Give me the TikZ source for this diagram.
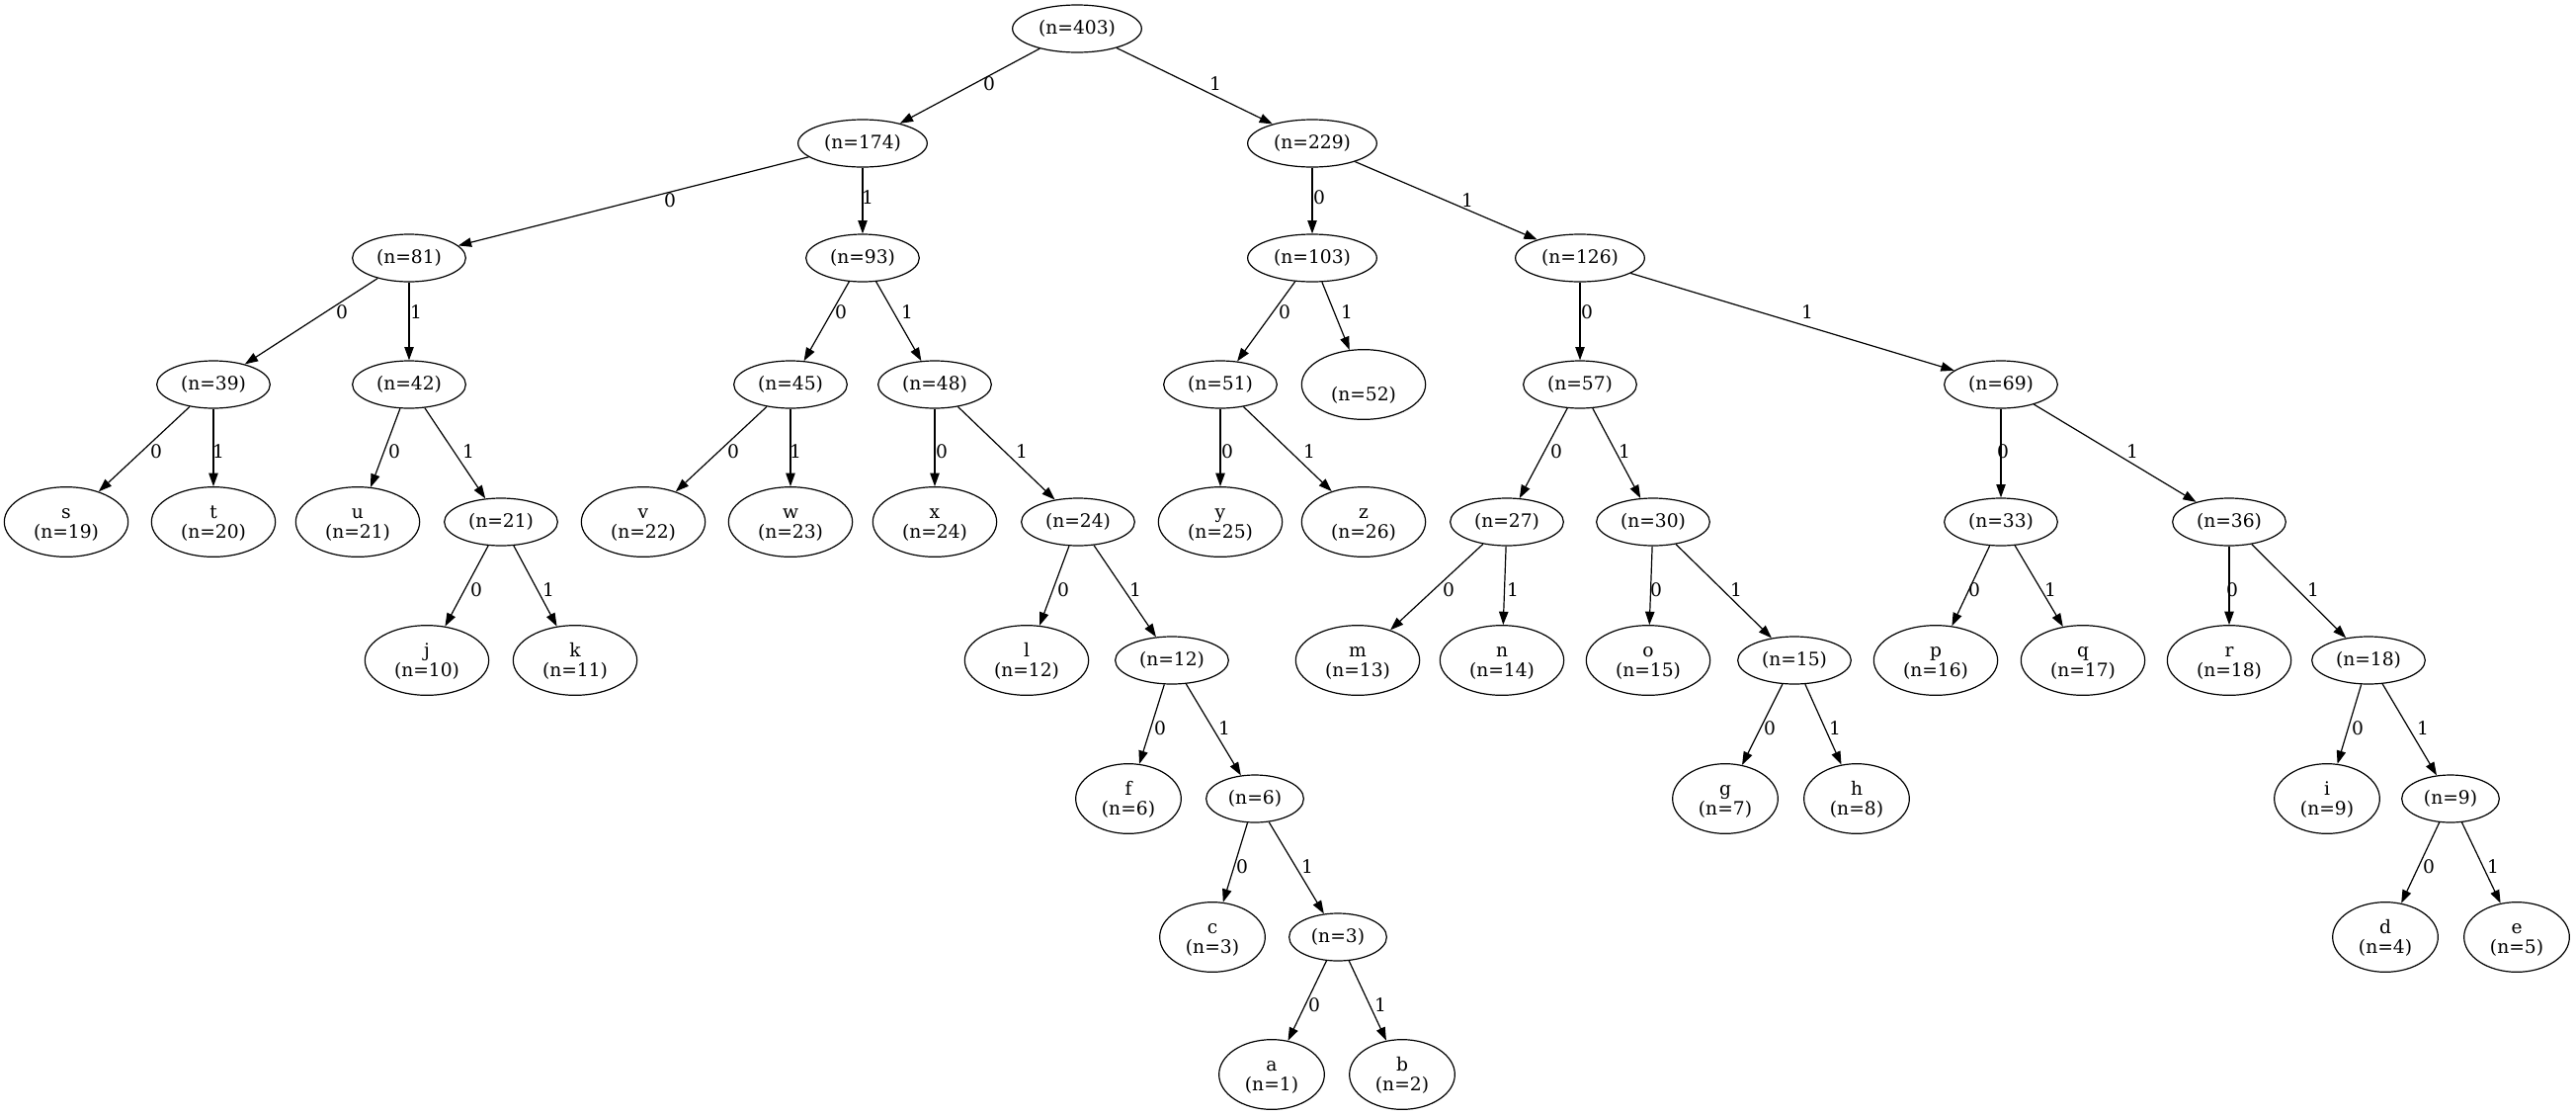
\documentclass[tikz,border=0pt]{standalone}
\usepackage{fontspec}
\setmainfont{DejaVu Serif}
\usetikzlibrary{shapes.geometric,arrows.meta}
\newcommand\leaftext[2]{\rule{0pt}{12pt}#1\\#2\rule[-3pt]{0pt}{0pt}}
\begin{document}
\begin{tikzpicture}[x=0.75pt,y=-0.75pt,
  every node/.style={font=\fontsize{14}{15}\selectfont},
  inode/.style={ellipse,draw,line width=0.9pt,inner sep=0pt,minimum height=36pt},
  w5/.style={minimum width=74pt}, w6/.style={minimum width=86pt}, w7/.style={minimum width=98pt},
  leaf/.style={ellipse,draw,line width=0.9pt,inner sep=0pt,minimum height=53pt,align=center},
  lw5/.style={leaf,minimum width=80pt}, lw6/.style={leaf,minimum width=94pt},
  conn/.style={line width=0.9pt,-{Triangle[length=10pt,width=7pt]}},
  elabel/.style={inner sep=0pt}]
\useasboundingbox (0,0) rectangle (2607,1129);
% internal nodes
\node[inode,w7] (n403) at (1090,29) {(n=403)};
\node[inode,w7] (n174) at (873,145) {(n=174)};
\node[inode,w7] (n229) at (1328,145) {(n=229)};
\node[inode,w6] (n81) at (414,261) {(n=81)};
\node[inode,w6] (n93) at (873,261) {(n=93)};
\node[inode,w7] (n103) at (1328,261) {(n=103)};
\node[inode,w7] (n126) at (1599,261) {(n=126)};
\node[inode,w6] (n39) at (216,389) {(n=39)};
\node[inode,w6] (n42) at (414,389) {(n=42)};
\node[inode,w6] (n45) at (800,389) {(n=45)};
\node[inode,w6] (n48) at (946,389) {(n=48)};
\node[inode,w6] (n51) at (1235,389) {(n=51)};
\node[inode,w6] (n57) at (1599,389) {(n=57)};
\node[inode,w6] (n69) at (2025,389) {(n=69)};
\node[inode,w6] (n21) at (507,528) {(n=21)};
\node[inode,w6] (n24) at (1091,528) {(n=24)};
\node[inode,w6] (n27) at (1525,528) {(n=27)};
\node[inode,w6] (n30) at (1673,528) {(n=30)};
\node[inode,w6] (n33) at (2025,528) {(n=33)};
\node[inode,w6] (n36) at (2256,528) {(n=36)};
\node[inode,w6] (n12) at (1186,668) {(n=12)};
\node[inode,w6] (n15) at (1816,668) {(n=15)};
\node[inode,w6] (n18) at (2397,668) {(n=18)};
\node[inode,w5] (n6) at (1270,808) {(n=6)};
\node[inode,w5] (n9) at (2480,808) {(n=9)};
\node[inode,w5] (n3) at (1354,948) {(n=3)};
% leaves
\node[lw6] (n52) at (1380,389) {\leaftext{}{(n=52)}};
\node[lw6] (Ls) at (67,528) {\leaftext{s}{(n=19)}};
\node[lw6] (Lt) at (216,528) {\leaftext{t}{(n=20)}};
\node[lw6] (Lu) at (362,528) {\leaftext{u}{(n=21)}};
\node[lw6] (Lv) at (651,528) {\leaftext{v}{(n=22)}};
\node[lw6] (Lw) at (800,528) {\leaftext{w}{(n=23)}};
\node[lw6] (Lx) at (946,528) {\leaftext{x}{(n=24)}};
\node[lw6] (Ly) at (1235,528) {\leaftext{y}{(n=25)}};
\node[lw6] (Lz) at (1380,528) {\leaftext{z}{(n=26)}};
\node[lw6] (Lj) at (432,668) {\leaftext{j}{(n=10)}};
\node[lw6] (Lk) at (582,668) {\leaftext{k}{(n=11)}};
\node[lw6] (Ll) at (1039,668) {\leaftext{l}{(n=12)}};
\node[lw6] (Lm) at (1374,668) {\leaftext{m}{(n=13)}};
\node[lw6] (Ln) at (1520,668) {\leaftext{n}{(n=14)}};
\node[lw6] (Lo) at (1668,668) {\leaftext{o}{(n=15)}};
\node[lw6] (Lp) at (1959,668) {\leaftext{p}{(n=16)}};
\node[lw6] (Lq) at (2108,668) {\leaftext{q}{(n=17)}};
\node[lw6] (Lr) at (2256,668) {\leaftext{r}{(n=18)}};
\node[lw5] (Lf) at (1142,808) {\leaftext{f}{(n=6)}};
\node[lw5] (Lg) at (1746,808) {\leaftext{g}{(n=7)}};
\node[lw5] (Lh) at (1879,808) {\leaftext{h}{(n=8)}};
\node[lw5] (Li) at (2355,808) {\leaftext{i}{(n=9)}};
\node[lw5] (Lc) at (1227,948) {\leaftext{c}{(n=3)}};
\node[lw5] (Ld) at (2414,948) {\leaftext{d}{(n=4)}};
\node[lw5] (Le) at (2547,948) {\leaftext{e}{(n=5)}};
\node[lw5] (La) at (1287,1087) {\leaftext{a}{(n=1)}};
\node[lw5] (Lb) at (1419,1087) {\leaftext{b}{(n=2)}};
% edges
\draw[conn] (n403) -- (n174); \node[elabel] (e1) at (1001,85) {0};
\draw[conn] (n403) -- (n229); \node[elabel] (e2) at (1230,85) {1};
\draw[conn] (n174) -- (n81); \node[elabel] (e3) at (678,203) {0};
\draw[conn] (n174) -- (n93); \node[elabel] (e4) at (878,200) {1};
\draw[conn] (n229) -- (n103); \node[elabel] (e5) at (1335,200) {0};
\draw[conn] (n229) -- (n126); \node[elabel] (e6) at (1485,203) {1};
\draw[conn] (n81) -- (n39); \node[elabel] (e7) at (346,316) {0};
\draw[conn] (n81) -- (n42); \node[elabel] (e8) at (421,316) {1};
\draw[conn] (n93) -- (n45); \node[elabel] (e9) at (851,316) {0};
\draw[conn] (n93) -- (n48); \node[elabel] (e10) at (918,316) {1};
\draw[conn] (n103) -- (n51); \node[elabel] (e11) at (1300,316) {0};
\draw[conn] (n103) -- (n52); \node[elabel] (e12) at (1363,316) {1};
\draw[conn] (n126) -- (n57); \node[elabel] (e13) at (1606,316) {0};
\draw[conn] (n126) -- (n69); \node[elabel] (e14) at (1829,316) {1};
\draw[conn] (n39) -- (Ls); \node[elabel] (e15) at (158,457) {0};
\draw[conn] (n39) -- (Lt); \node[elabel] (e16) at (221,457) {1};
\draw[conn] (n42) -- (Lu); \node[elabel] (e17) at (399,457) {0};
\draw[conn] (n42) -- (n21); \node[elabel] (e18) at (474,457) {1};
\draw[conn] (n45) -- (Lv); \node[elabel] (e19) at (742,457) {0};
\draw[conn] (n45) -- (Lw); \node[elabel] (e20) at (805,457) {1};
\draw[conn] (n48) -- (Lx); \node[elabel] (e21) at (953,457) {0};
\draw[conn] (n48) -- (n24); \node[elabel] (e22) at (1034,457) {1};
\draw[conn] (n51) -- (Ly); \node[elabel] (e23) at (1242,457) {0};
\draw[conn] (n51) -- (Lz); \node[elabel] (e24) at (1325,457) {1};
\draw[conn] (n57) -- (n27); \node[elabel] (e25) at (1575,457) {0};
\draw[conn] (n57) -- (n30); \node[elabel] (e26) at (1644,457) {1};
\draw[conn] (n69) -- (n33); \node[elabel] (e27) at (2027,457) {0};
\draw[conn] (n69) -- (n36); \node[elabel] (e28) at (2158,457) {1};
\draw[conn] (n21) -- (Lj); \node[elabel] (e29) at (482,597) {0};
\draw[conn] (n21) -- (Lk); \node[elabel] (e30) at (555,597) {1};
\draw[conn] (n24) -- (Ll); \node[elabel] (e31) at (1076,597) {0};
\draw[conn] (n24) -- (n12); \node[elabel] (e32) at (1149,597) {1};
\draw[conn] (n27) -- (Lm); \node[elabel] (e33) at (1466,597) {0};
\draw[conn] (n27) -- (Ln); \node[elabel] (e34) at (1531,597) {1};
\draw[conn] (n30) -- (Lo); \node[elabel] (e35) at (1676,597) {0};
\draw[conn] (n30) -- (n15); \node[elabel] (e36) at (1757,597) {1};
\draw[conn] (n33) -- (Lp); \node[elabel] (e37) at (1998,597) {0};
\draw[conn] (n33) -- (Lq); \node[elabel] (e38) at (2075,597) {1};
\draw[conn] (n36) -- (Lr); \node[elabel] (e39) at (2259,597) {0};
\draw[conn] (n36) -- (n18); \node[elabel] (e40) at (2341,597) {1};
\draw[conn] (n12) -- (Lf); \node[elabel] (e41) at (1174,737) {0};
\draw[conn] (n12) -- (n6); \node[elabel] (e42) at (1239,737) {1};
\draw[conn] (n15) -- (Lg); \node[elabel] (e43) at (1791,737) {0};
\draw[conn] (n15) -- (Lh); \node[elabel] (e44) at (1857,737) {1};
\draw[conn] (n18) -- (Li); \node[elabel] (e45) at (2386,737) {0};
\draw[conn] (n18) -- (n9); \node[elabel] (e46) at (2452,737) {1};
\draw[conn] (n6) -- (Lc); \node[elabel] (e47) at (1257,877) {0};
\draw[conn] (n6) -- (n3); \node[elabel] (e48) at (1323,877) {1};
\draw[conn] (n9) -- (Ld); \node[elabel] (e49) at (2458,877) {0};
\draw[conn] (n9) -- (Le); \node[elabel] (e50) at (2523,877) {1};
\draw[conn] (n3) -- (La); \node[elabel] (e51) at (1330,1017) {0};
\draw[conn] (n3) -- (Lb); \node[elabel] (e52) at (1397,1017) {1};
\end{tikzpicture}
\end{document}
